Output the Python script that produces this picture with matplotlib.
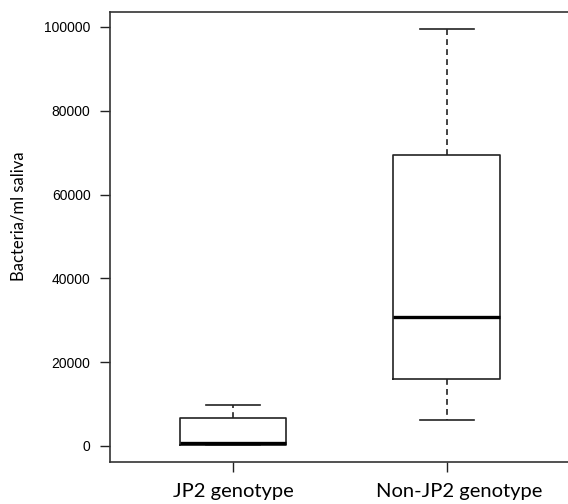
import matplotlib
matplotlib.use("Agg")
import matplotlib.pyplot as plt
import matplotlib.transforms as mtransforms

categories = ["JP2 genotype", "Non-JP2 genotype"]
whisker_low = [200, 6200]
q1 = [200, 16000]
medians = [800, 30700]
q3 = [6600, 69400]
whisker_high = [9700, 99500]
yticks = [0, 20000, 40000, 60000, 80000, 100000]

fig = plt.figure(figsize=(5.68, 5.04), dpi=100)
W, H = 568, 504
left, right, top, bottom = 110, 571, 12, 462
ax = fig.add_axes([left / W, 1 - bottom / H, (right - left) / W, (bottom - top) / H])

stats = []
for i, c in enumerate(categories):
    stats.append(dict(label=c, whislo=whisker_low[i], q1=q1[i], med=medians[i],
                      q3=q3[i], whishi=whisker_high[i], fliers=[]))

col = "#222222"
ax.bxp(stats, positions=[1, 2], widths=0.5, showfliers=False,
       boxprops=dict(color=col, linewidth=1.2),
       medianprops=dict(color="black", linewidth=2.4, solid_capstyle="butt"),
       whiskerprops=dict(color=col, linewidth=1.2, linestyle=(0, (3.5, 2.5))),
       capprops=dict(color=col, linewidth=1.2), capwidths=0.25)

ax.set_xlim(0.425, 2.58)
ax.set_ylim(-3820, 103580)
ax.set_yticks(yticks)
ax.set_yticklabels([str(v) for v in yticks], fontfamily="Liberation Sans", fontsize=10)
ax.set_xticks([1, 2])
ax.set_xticklabels(categories, fontfamily="Lato", fontsize=14.5)
ax.tick_params(axis="y", length=7, width=1, color=col, pad=7)
ax.tick_params(axis="x", length=7, width=1, color=col, pad=8)
lab2 = ax.get_xticklabels()[1]
lab2.set_transform(lab2.get_transform() + mtransforms.ScaledTranslation(12 / 100, 0, fig.dpi_scale_trans))
for s in ax.spines.values():
    s.set_linewidth(1.2)
    s.set_color("#333333")

fig.text(19 / W, 1 - 216 / H, "Bacteria/ml saliva", fontfamily="Lato", fontsize=12,
         rotation=90, ha="center", va="center")

fig.savefig("out.png", dpi=100)
